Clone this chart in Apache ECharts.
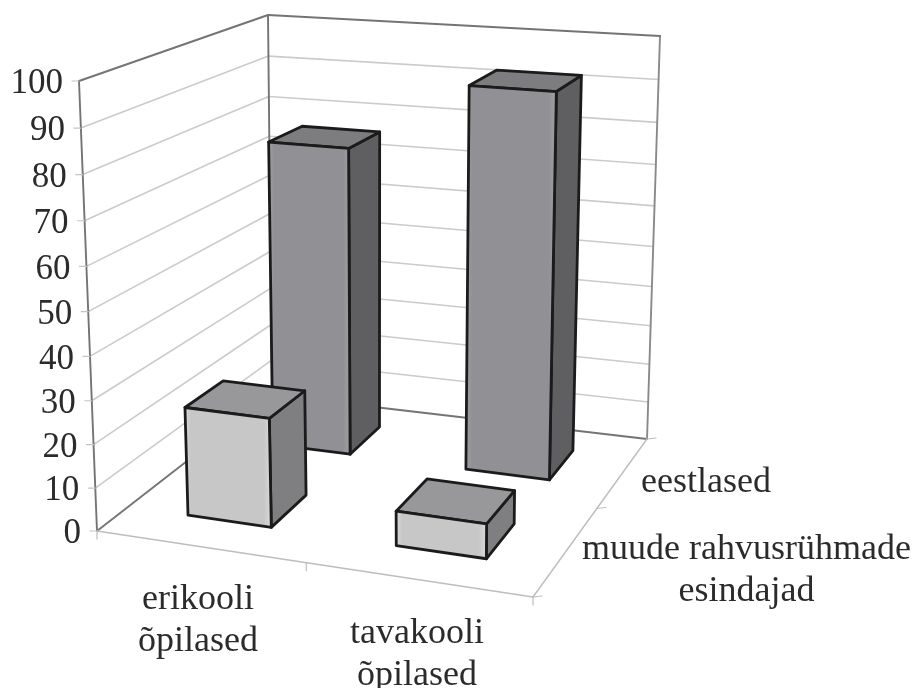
<!DOCTYPE html>
<html><head><meta charset="utf-8">
<style>html,body{margin:0;padding:0;background:#fff}#c{width:914px;height:688px}</style>
<script src="https://cdn.jsdelivr.net/npm/echarts@6/dist/echarts.min.js"></script>
</head><body><div id="c"></div>
<script>
// ---- data ----
const categories = ['erikooli\nõpilased', 'tavakooli\nõpilased'];
const depths = ['muude rahvusrühmade\nesindajad', 'eestlased'];
const muudeValues = [25.5, 8];
const eestlasedValues = [76, 92.5];
const tickLabels = [0, 10, 20, 30, 40, 50, 60, 70, 80, 90, 100];

// ---- projection of the unit box (u, w, t) on the page ----
const W = 914, H = 688;
const floor = { a: [97, 531], b: [533, 597], c: [272, 395], d: [647, 439] };
const roof  = { a: [79, 81],  b: [538, 119], c: [268, 15],  d: [660, 36] };
const catBands = [[0.14, 0.336], [0.63, 0.842]];
const depthBands = [[0.18, 0.405], [0.69, 0.88]];
const catTicks = [0, 0.48, 1];
const depthTicks = [0, 0.56, 1];
const NUM_FONT = '35px "Liberation Serif", "Times New Roman", serif';
const FONT = '36px "Liberation Serif", "Times New Roman", serif';

function bil(q, u, w, i) {
  return (1 - u) * (1 - w) * q.a[i] + u * (1 - w) * q.b[i] + (1 - u) * w * q.c[i] + u * w * q.d[i];
}
function proj(api, u, w, v) {
  const c = api.coord([u, v]);
  const uu = c[0] / W, t0 = 1 - c[1] / H;
  // slight vertical foreshortening: more towards the back of the box
  const t = t0 - (0.05 + 0.04 * w) * t0 * (1 - t0);
  return [0, 1].map(i => (1 - t) * bil(floor, uu, w, i) + t * bil(roof, uu, w, i));
}
const ln = (p, q, color, width) => ({
  type: 'line',
  shape: { x1: p[0], y1: p[1], x2: q[0], y2: q[1] },
  style: { stroke: color, lineWidth: width, lineCap: 'round' }
});
const txt = (x, y, text, align, font) => ({
  type: 'text',
  style: { x, y, text, font: font || FONT, fill: '#2b2b2b', align: align || 'center', verticalAlign: 'middle', lineHeight: 42 }
});

const EDGE = '#747477', GRID = '#cbcbcb', FLOORC = '#bdbdbd';

function renderFrame(params, api) {
  const P = (u, w, v) => proj(api, u, w, v);
  const kids = [];
  tickLabels.slice(1, -1).forEach(v => {
    kids.push(ln(P(0, 0, v), P(0, 1, v), GRID, 1.6));
    kids.push(ln(P(0, 1, v), P(1, 1, v), GRID, 1.6));
  });
  kids.push(ln(P(0, 0, 0), P(0, 0, 100), EDGE, 1.9));
  kids.push(ln(P(0, 1, 0), P(0, 1, 100), EDGE, 1.9));
  kids.push(ln(P(1, 1, 0), P(1, 1, 100), '#8a8a8a', 1.9));
  kids.push(ln(P(0, 0, 100), P(0, 1, 100), EDGE, 1.9));
  kids.push(ln(P(0, 1, 100), P(1, 1, 100), EDGE, 1.9));
  kids.push(ln(P(0, 0, 0), P(0, 1, 0), EDGE, 1.9));
  kids.push(ln(P(0, 1, 0), P(1, 1, 0), EDGE, 1.9));
  kids.push(ln(P(0, 0, 0), P(1, 0, 0), FLOORC, 1.4));
  kids.push(ln(P(1, 0, 0), P(1, 1, 0), FLOORC, 1.4));
  catTicks.forEach(u => {
    const p = P(u, 0, 0);
    kids.push(ln(p, [p[0], p[1] + 8], FLOORC, 1.2));
  });
  depthTicks.forEach(w => {
    const p = P(1, w, 0);
    kids.push(ln(p, [p[0] + 9, p[1] - 1], FLOORC, 1.2));
  });
  tickLabels.forEach(v => {
    const p = P(0, 0, v);
    kids.push(ln(p, [p[0] - 7, p[1]], '#c4c4c4', 1.2));
    kids.push(txt(p[0] - 16, p[1] + 3, String(v), 'right', NUM_FONT));
  });
  return { type: 'group', children: kids };
}

function renderBar(params, api) {
  const c = api.value(0), d = api.value(1), v = api.value(2);
  const [u0, u1] = catBands[c], [w0, w1] = depthBands[d];
  const P = (u, w, h) => proj(api, u, w, h);
  const pal = d === 1
    ? { front: '#919195', rim: '#a4a4a8', side: '#5f5f61', top: '#7d7d7f' }
    : { front: '#c7c7c7', rim: '#dedede', side: '#7f7f81', top: '#98989a' };
  const face = (pts, fill) => ({
    type: 'polygon', shape: { points: pts },
    style: { fill, stroke: '#1b1b1b', lineWidth: 2.8, lineJoin: 'round' }
  });
  const frontFill = new echarts.graphic.LinearGradient(0, 0, 1, 0, [
    { offset: 0, color: pal.rim }, { offset: 0.08, color: pal.front },
    { offset: 0.9, color: pal.front }, { offset: 1, color: pal.rim }
  ]);
  return { type: 'group', children: [
    face([P(u1, w0, 0), P(u1, w1, 0), P(u1, w1, v), P(u1, w0, v)], pal.side),
    face([P(u0, w0, v), P(u1, w0, v), P(u1, w1, v), P(u0, w1, v)], pal.top),
    face([P(u0, w0, 0), P(u1, w0, 0), P(u1, w0, v), P(u0, w0, v)], frontFill)
  ]};
}

function renderLabels(params, api) {
  return { type: 'group', children: [
    txt(198, 620.5, categories[0]),
    txt(417, 654.5, categories[1]),
    txt(706, 483, depths[1]),
    txt(746.5, 571, depths[0])
  ]};
}

// bars painted from the back row to the front row
const barRows = [];
[eestlasedValues, muudeValues].forEach((vals, i) => {
  vals.forEach((v, c) => barRows.push([c, 1 - i, v]));
});

const chart = echarts.init(document.getElementById('c'), null, { renderer: 'canvas' });
chart.setOption({
  animation: false,
  backgroundColor: '#ffffff',
  grid: { left: 0, top: 0, width: W, height: H },
  xAxis: { type: 'value', min: 0, max: 1, show: false },
  yAxis: { type: 'value', min: 0, max: 100, show: false },
  series: [
    { type: 'custom', z: 1, silent: true, clip: false, data: [[0, 0]], renderItem: renderFrame },
    { type: 'custom', z: 2, silent: true, clip: false, data: barRows, encode: { x: 0, y: 2 }, renderItem: renderBar },
    { type: 'custom', z: 3, silent: true, clip: false, data: [[0, 0]], renderItem: renderLabels }
  ]
});
</script>
</body></html>
